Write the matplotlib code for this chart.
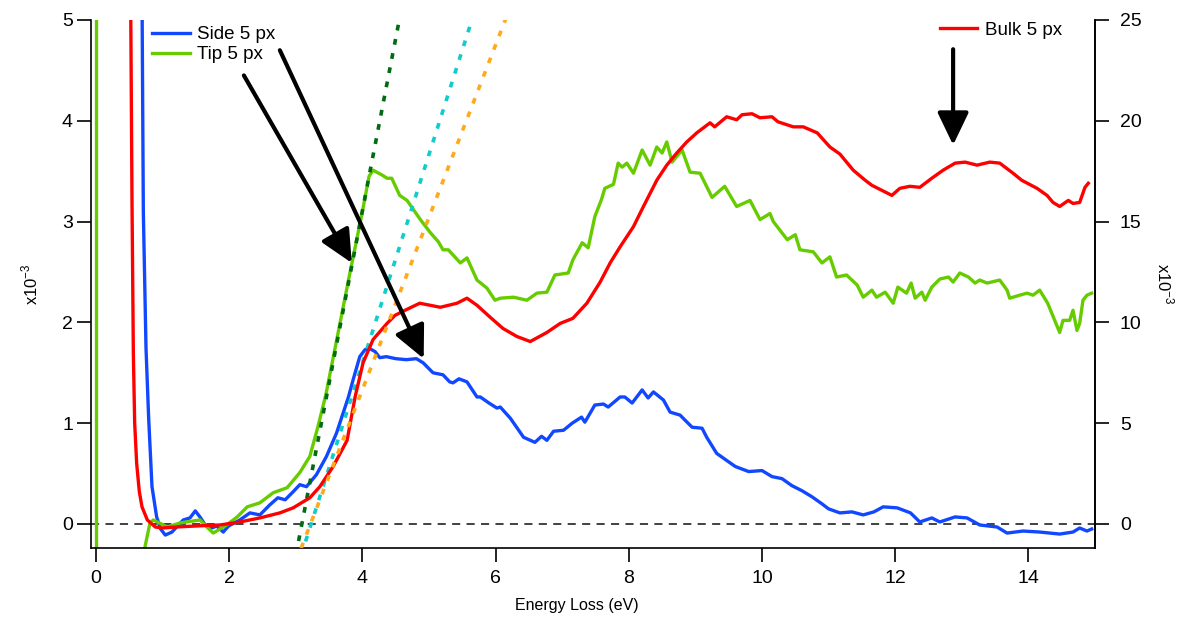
import matplotlib
matplotlib.use("Agg")
import matplotlib.pyplot as plt

plt.rcParams['font.family'] = ['Liberation Sans', 'DejaVu Sans']
plt.rcParams['mathtext.fontset'] = 'custom'
plt.rcParams['mathtext.rm'] = 'Liberation Sans'

# Energy loss spectra (left axis, x10^-3)
side_x = [0.69, 0.71, 0.75, 0.79, 0.84, 0.91, 0.97, 1.04, 1.14, 1.21, 1.31, 1.41, 1.49, 1.56, 1.64, 1.74, 1.81,
          1.91, 1.99, 2.16, 2.31, 2.46, 2.61, 2.73, 2.84, 2.96, 3.06, 3.16, 3.31, 3.46, 3.61, 3.79, 3.86, 3.96,
          4.04, 4.11, 4.19, 4.26, 4.36, 4.50, 4.66, 4.81, 4.91, 5.06, 5.21, 5.31, 5.36, 5.45, 5.57, 5.72, 5.77,
          5.90, 6.02, 6.07, 6.22, 6.42, 6.59, 6.69, 6.77, 6.87, 7.02, 7.15, 7.29, 7.34, 7.49, 7.62, 7.69, 7.87,
          7.94, 8.05, 8.20, 8.29, 8.37, 8.52, 8.62, 8.77, 8.95, 9.10, 9.17, 9.32, 9.47, 9.60, 9.80, 10.00, 10.15,
          10.30, 10.45, 10.60, 10.75, 10.90, 11.00, 11.17, 11.35, 11.52, 11.68, 11.82, 12.03, 12.23, 12.37,
          12.55, 12.67, 12.90, 13.08, 13.27, 13.53, 13.68, 13.92, 14.17, 14.47, 14.67, 14.77, 14.88, 14.95]
side_y = [5.3, 3.1, 1.75, 1.05, 0.37, 0.07, -0.05, -0.11, -0.08, -0.03, 0.04, 0.06, 0.13, 0.07, -0.01, -0.04,
          -0.02, -0.08, -0.02, 0.04, 0.11, 0.09, 0.19, 0.26, 0.24, 0.32, 0.39, 0.37, 0.49, 0.67, 0.90, 1.26, 1.43,
          1.66, 1.73, 1.74, 1.71, 1.65, 1.66, 1.64, 1.63, 1.64, 1.60, 1.50, 1.48, 1.41, 1.40, 1.44, 1.41, 1.26,
          1.26, 1.20, 1.15, 1.16, 1.05, 0.86, 0.81, 0.87, 0.83, 0.92, 0.93, 1.00, 1.06, 1.01, 1.18, 1.19, 1.16,
          1.26, 1.26, 1.20, 1.33, 1.25, 1.31, 1.23, 1.11, 1.08, 0.96, 0.95, 0.86, 0.70, 0.63, 0.57, 0.52, 0.53,
          0.47, 0.45, 0.38, 0.33, 0.27, 0.20, 0.15, 0.11, 0.12, 0.09, 0.12, 0.17, 0.16, 0.11, 0.02, 0.06, 0.02,
          0.07, 0.06, -0.01, -0.03, -0.09, -0.07, -0.08, -0.10, -0.08, -0.04, -0.07, -0.05]

tip_x = [0.72, 0.74, 0.81, 0.86, 1.07, 1.26, 1.56, 1.68, 1.76, 1.96, 2.12, 2.27, 2.46, 2.66, 2.87, 3.06, 3.21,
         3.33, 3.45, 3.60, 3.80, 4.00, 4.10, 4.16, 4.30, 4.37, 4.44, 4.56, 4.67, 4.87, 5.02, 5.14, 5.21, 5.29,
         5.47, 5.57, 5.72, 5.87, 5.99, 6.07, 6.27, 6.47, 6.62, 6.77, 6.89, 7.09, 7.16, 7.30, 7.39, 7.49, 7.59,
         7.64, 7.77, 7.84, 7.90, 7.97, 8.07, 8.20, 8.32, 8.42, 8.50, 8.57, 8.65, 8.80, 8.92, 9.07, 9.25, 9.44,
         9.62, 9.82, 9.97, 10.12, 10.17, 10.38, 10.50, 10.57, 10.77, 10.90, 11.02, 11.12, 11.27, 11.35, 11.43,
         11.52, 11.65, 11.72, 11.85, 11.97, 12.04, 12.17, 12.24, 12.30, 12.40, 12.45, 12.55, 12.67, 12.80,
         12.87, 12.97, 13.10, 13.20, 13.27, 13.38, 13.57, 13.68, 13.72, 13.87, 13.98, 14.07, 14.17, 14.29,
         14.47, 14.52, 14.62, 14.67, 14.73, 14.77, 14.82, 14.88, 14.95]
tip_y = [-0.3, -0.21, 0.01, 0.04, -0.03, 0.01, 0.04, -0.04, -0.09, -0.01, 0.07, 0.17, 0.21, 0.31, 0.36, 0.51,
         0.67, 0.96, 1.28, 1.78, 2.45, 3.10, 3.45, 3.51, 3.46, 3.43, 3.43, 3.26, 3.21, 3.02, 2.89, 2.80, 2.72,
         2.72, 2.59, 2.64, 2.42, 2.34, 2.22, 2.24, 2.25, 2.22, 2.29, 2.30, 2.47, 2.49, 2.62, 2.79, 2.74, 3.05,
         3.22, 3.33, 3.37, 3.58, 3.54, 3.58, 3.48, 3.71, 3.56, 3.74, 3.68, 3.79, 3.59, 3.71, 3.49, 3.48, 3.24,
         3.35, 3.15, 3.21, 3.02, 3.08, 3.00, 2.82, 2.87, 2.72, 2.70, 2.59, 2.65, 2.45, 2.47, 2.42, 2.37, 2.25,
         2.32, 2.25, 2.30, 2.19, 2.35, 2.29, 2.39, 2.24, 2.30, 2.22, 2.35, 2.43, 2.45, 2.40, 2.49, 2.45, 2.39,
         2.42, 2.39, 2.42, 2.32, 2.24, 2.27, 2.29, 2.27, 2.32, 2.19, 1.90, 2.02, 2.02, 2.12, 1.92, 1.99, 2.22,
         2.27, 2.29]
# zero-loss peak of the tip spectrum (off scale)
tip_zlp_x = [0.0, 0.0]
tip_zlp_y = [-0.3, 5.5]

# Bulk spectrum (right axis, x10^-3)
bulk_x = [0.52, 0.54, 0.56, 0.58, 0.61, 0.65, 0.69, 0.77, 0.89, 1.0, 1.2, 1.5, 1.86, 2.16, 2.46, 2.76, 2.96,
          3.21, 3.36, 3.56, 3.77, 3.89, 4.01, 4.16, 4.37, 4.49, 4.64, 4.86, 5.17, 5.42, 5.57, 5.72, 5.92, 6.11,
          6.32, 6.52, 6.77, 6.97, 7.16, 7.37, 7.57, 7.72, 7.87, 8.07, 8.22, 8.42, 8.57, 8.72, 8.87, 9.02, 9.22,
          9.29, 9.47, 9.62, 9.70, 9.85, 9.97, 10.15, 10.24, 10.47, 10.62, 10.83, 11.02, 11.17, 11.37, 11.55,
          11.65, 11.80, 11.95, 12.07, 12.22, 12.37, 12.55, 12.72, 12.90, 13.05, 13.23, 13.42, 13.57, 13.77,
          13.90, 14.13, 14.28, 14.37, 14.47, 14.60, 14.67, 14.77, 14.85, 14.90]
bulk_y = [26.0, 16.0, 8.5, 5.0, 3.0, 1.6, 0.85, 0.2, -0.15, -0.2, -0.15, -0.1, -0.05, 0.1, 0.3, 0.55, 0.8, 1.3,
          1.85, 2.85, 4.15, 6.3, 8.0, 9.15, 9.95, 10.35, 10.6, 10.95, 10.75, 10.95, 11.2, 10.85, 10.25, 9.7, 9.3,
          9.05, 9.5, 9.95, 10.2, 10.95, 12.0, 12.95, 13.75, 14.75, 15.75, 17.05, 17.8, 18.4, 18.95, 19.4, 19.9,
          19.7, 20.2, 20.05, 20.3, 20.35, 20.15, 20.2, 19.95, 19.7, 19.7, 19.4, 18.7, 18.35, 17.55, 17.05, 16.8,
          16.55, 16.3, 16.65, 16.75, 16.7, 17.15, 17.55, 17.9, 17.95, 17.8, 17.95, 17.9, 17.4, 17.05, 16.65,
          16.3, 15.95, 15.75, 16.05, 15.9, 15.95, 16.7, 16.9]

# band-gap onset fits (end points)
tip_fit_x = [3.00, 4.60]
tip_fit_y = [-0.31, 5.16]
side_fit_x = [3.08, 5.75]
side_fit_y = [-0.31, 5.22]
bulk_fit_x = [3.08, 6.25]
bulk_fit_y = [-1.2, 25.9]

# arrows: (start, end) in left-axis data units
arrows = [((2.22, 4.45), (3.84, 2.59)),
          ((2.76, 4.70), (4.92, 1.64)),
          ((12.87, 4.71), (12.87, 3.76))]

BLUE = '#1147ff'
GREEN = '#66cc00'
RED = '#ff0000'
LW = 2.4

fig = plt.figure(figsize=(11.84, 6.21), dpi=100)
ax = fig.add_axes([0.0769, 0.1176, 0.8479, 0.8502])
ax2 = ax.twinx()

ax.axhline(0, color='#333333', lw=1.3, ls=(0, (4.5, 3.5)), zorder=1)
side_line, = ax.plot(side_x, side_y, color=BLUE, lw=LW, label='Side 5 px')
tip_line, = ax.plot(tip_x, tip_y, color=GREEN, lw=LW, label='Tip 5 px')
ax.plot(tip_zlp_x, tip_zlp_y, color=GREEN, lw=LW)
ax.plot(tip_fit_x, tip_fit_y, color='#006b12', lw=2.6, ls=(0, (1.6, 2.4)), zorder=3)
ax.plot(side_fit_x, side_fit_y, color='#12cccc', lw=2.6, ls=(0, (1.6, 2.4)), zorder=3)

bulk_line, = ax2.plot(bulk_x, bulk_y, color=RED, lw=LW, label='Bulk 5 px')
ax2.plot(bulk_fit_x, bulk_fit_y, color='#ffaa1a', lw=2.6, ls=(0, (1.6, 2.4)), zorder=3)

for start, end in arrows:
    ax2.annotate('', xy=end, xytext=start, xycoords=ax.transData, textcoords=ax.transData,
                 arrowprops=dict(arrowstyle='-|>,head_length=1.0,head_width=0.48', mutation_scale=20,
                                 color='black', lw=3, shrinkA=0, shrinkB=0), zorder=5)

ax.set_xlim(-0.075, 15.0)
ax.set_ylim(-0.238, 5.0)
ax2.set_ylim(-1.19, 25.0)
ax.set_xticks(range(0, 15, 2))
ax.set_yticks(range(0, 6))
ax2.set_yticks(range(0, 26, 5))

for a in (ax, ax2):
    a.spines['top'].set_visible(False)
    for s in a.spines.values():
        s.set_linewidth(1.2)
ax2.spines['left'].set_visible(False)
ax2.spines['bottom'].set_visible(False)

ax.tick_params(axis='both', direction='out', length=10, width=1.2, labelsize=14, pad=3)
ax.tick_params(axis='x', pad=6)
ax2.tick_params(axis='y', direction='out', length=10, width=1.2, labelsize=14, pad=8)

ax.set_xlabel('Energy Loss (eV)', fontsize=11.5)
ax.xaxis.set_label_coords(0.484, -0.095)
fig.text(30 / 1184, 1 - 284 / 621, 'x10$^{-3}$', rotation=90, ha='center', va='center', fontsize=12)
fig.text(1165 / 1184, 1 - 284 / 621, 'x10$^{-3}$', rotation=-90, ha='center', va='center', fontsize=12)

leg1 = ax2.legend(handles=[side_line, tip_line], loc='upper left', bbox_to_anchor=(0.0608, 0.988),
                  frameon=False, fontsize=13.5, handlelength=2.0, handletextpad=0.4, borderpad=0,
                  borderaxespad=0, labelspacing=0.15)
ax2.add_artist(leg1)
ax2.legend(handles=[bulk_line], loc='upper left', bbox_to_anchor=(0.8456, 0.997), frameon=False,
           fontsize=13.5, handlelength=2.0, handletextpad=0.4, borderpad=0, borderaxespad=0)

fig.savefig('out.png', dpi=100)
